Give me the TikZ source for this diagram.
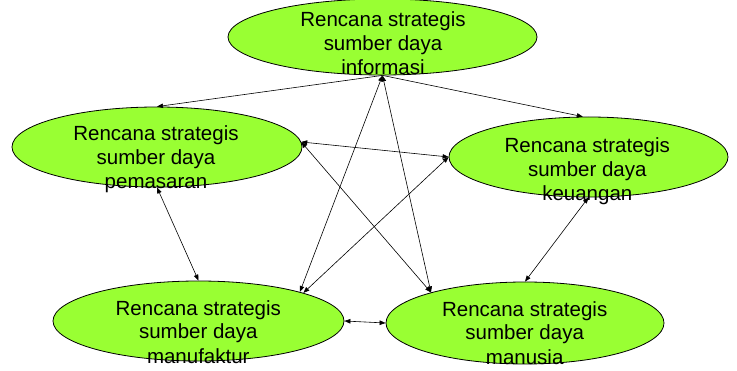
\documentclass[tikz,border=0pt]{standalone}
\usepackage{fontspec}
\setmainfont{Liberation Sans}
\usetikzlibrary{shapes.geometric,arrows.meta}
\definecolor{plangreen}{RGB}{153,255,51}
\tikzset{
  plan/.style={ellipse, draw=black, fill=plangreen, line width=0.8pt, inner sep=0pt},
  plantext/.style={align=center, anchor=base, inner sep=0pt,
    font=\fontsize{20.5}{24}\selectfont},
  link/.style={line width=0.6pt, -{Triangle[length=6pt,width=4.5pt]}},
  dlink/.style={line width=0.6pt, {Triangle[length=6pt,width=4.5pt]}-{Triangle[length=6pt,width=4.5pt]}}
}
\begin{document}
\begin{tikzpicture}[x=1pt,y=1pt]
\useasboundingbox (0,0) rectangle (737,370);

% strategic plan ellipses
\node[plan, minimum width=309, minimum height=76] (info)  at (382.5,333) {};
\node[plan, minimum width=290, minimum height=80] (mark)  at (157,223) {};
\node[plan, minimum width=279, minimum height=80] (fin)   at (588.5,213) {};
\node[plan, minimum width=291, minimum height=80] (manuf) at (198.5,49) {};
\node[plan, minimum width=278, minimum height=82] (hr)    at (525,47) {};

% relations between the plans
\draw[link]  (info.south) -- (mark.north);
\draw[link]  (info.south) -- (fin.98);
\draw[dlink] (mark.2) -- (fin.west);
\draw[dlink] (mark.2) -- (hr.162);
\draw[dlink] (fin.west) -- (manuf.15);
\draw[dlink] (info.south) -- (manuf.16);
\draw[dlink] (info.south) -- (hr.162);
\draw[dlink] (mark.south) -- (manuf.north);
\draw[dlink] (fin.south) -- (hr.north);
\draw[dlink] (manuf.east) -- (hr.west);

% labels (anchored at the baseline of the last line)
\node[plantext] (tinfo)  at (383,295)   {Rencana strategis\\sumber daya\\informasi};
\node[plantext] (tmark)  at (156,181)   {Rencana strategis\\sumber daya\\pemasaran};
\node[plantext] (tfin)   at (587.3,169) {Rencana strategis\\sumber daya\\keuangan};
\node[plantext] (tmanuf) at (198.3,7)   {Rencana strategis\\sumber daya\\manufaktur};
\node[plantext] (thr)    at (524.7,6)   {Rencana strategis\\sumber daya\\manusia};
\end{tikzpicture}
\end{document}
